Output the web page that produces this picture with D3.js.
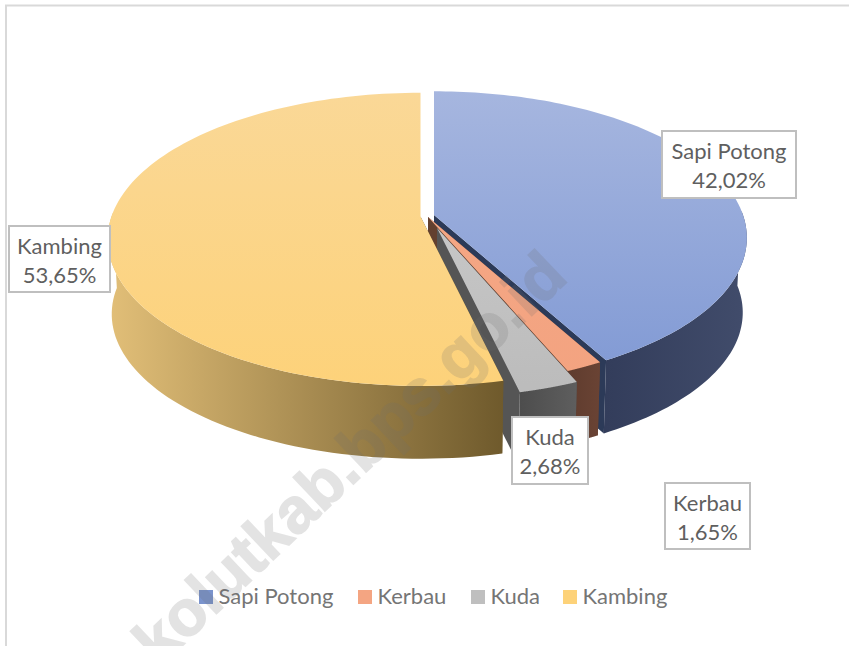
<!DOCTYPE html>
<html><head><meta charset="utf-8">
<script src="https://cdn.jsdelivr.net/npm/d3@7/dist/d3.min.js"></script>
<style>html,body{margin:0;padding:0;background:#fff;overflow:hidden}svg{display:block}text{font-family:Lato,"Open Sans",sans-serif}</style>
</head><body><svg id="c" width="849" height="646"></svg>
<script>
const categories = ["Sapi Potong","Kerbau","Kuda","Kambing"];
const values = [42.02,1.65,2.68,53.65];
const valueLabels = ["42,02%","1,65%","2,68%","53,65%"];
const watermark = "kolutkab.bps.go.id";

// styling and layout, per category
const apexX = [434,428,437,420.5];
const apexY = [215,217,228,216.5];
const topGrad = [["#a6b6df","#8099d4"],["#f5a988","#f3a380"],["#cfcfcf","#bcbcbc"],["#fad897","#fdd27a"]];
const wallGrad = [["#333d5b","#414c6b"],["#5f3c2e","#6a4334"],["#4d4d4d","#5e5e5e"],["#e2bf78","#6f5a2c"]];
const cutColor = ["#2c3a58","#63402f","#555555","#6f5a2c"];
const legendSwatch = ["#7a93cc","#f4a582","#bfbfbf","#fdd279"];
const boxX = [662,665,512,9], boxY = [131,483,417,226], boxW = [134,85,76,101], boxH = [67,66,67,66];
const legendX = [199,358,471,563];

const R = 309, S = 143, K = 0.156, DEPTH = 75, SHRINK = 0.987;
const svg = d3.select("#c");
const defs = svg.append("defs");
const pie = d3.pie().sort(null).startAngle(0).endAngle(2*Math.PI);
const arcs = pie(values);

function project(a, i, bottom){
  const u = Math.sin(a), v = -Math.cos(a), w = 1 - K*v;
  const f = bottom ? SHRINK : 1;
  return [apexX[i] + f*R*u/w, apexY[i] + f*S*v/w + (bottom ? DEPTH : 0)];
}
const line = d3.line();
const samples = (a0,a1) => d3.range(0,121).map(d3.scaleLinear([0,120],[a0,a1]));

// frame
svg.append("rect").attr("x",0).attr("y",0).attr("width",849).attr("height",646).attr("fill","#fff");
svg.append("path").attr("d","M6,646V5.5H849").attr("fill","none").attr("stroke","#d9d9d9").attr("stroke-width",2);

arcs.forEach((d,i)=>{
  const as = samples(d.startAngle,d.endAngle);
  const tg = defs.append("linearGradient").attr("id","t"+i).attr("gradientUnits","userSpaceOnUse")
    .attr("x1",0).attr("x2",0).attr("y1",91).attr("y2",385);
  tg.append("stop").attr("offset",0).attr("stop-color",topGrad[i][0]);
  tg.append("stop").attr("offset",1).attr("stop-color",topGrad[i][1]);
  const g = svg.append("g").attr("class","slice");
  // cut faces, under the wall
  [d.startAngle,d.endAngle].forEach(a=>{
    const top = project(a,i,false), bot = project(a,i,true);
    const ax0=[apexX[i],apexY[i]], ax1=[apexX[i],apexY[i]+DEPTH];
    g.append("path").attr("d",line([ax0,top,bot,ax1])+"Z").attr("fill",cutColor[i]);
  });
  // outer wall: only the front part of the rim
  const front = as.filter(a => Math.cos(a) < 0.05);
  const topPts = front.map(a=>project(a,i,false));
  const botPts = front.map(a=>project(a,i,true)).reverse();
  const xs = topPts.map(p=>p[0]);
  const wg = defs.append("linearGradient").attr("id","w"+i).attr("gradientUnits","userSpaceOnUse")
    .attr("y1",0).attr("y2",0)
    .attr("x1",i===3?d3.min(xs):d3.max(xs)).attr("x2",i===3?d3.max(xs):d3.min(xs));
  wg.append("stop").attr("offset",0).attr("stop-color",wallGrad[i][i===3?0:1]);
  wg.append("stop").attr("offset",1).attr("stop-color",wallGrad[i][i===3?1:0]);
  g.append("path").attr("d",line(topPts.concat(botPts))+"Z").attr("fill",`url(#w${i})`);
  // top face
  const pts = [[apexX[i],apexY[i]]].concat(as.map(a=>project(a,i,false)));
  g.append("path").attr("d",line(pts)+"Z").attr("fill",`url(#t${i})`);
});

// data labels
categories.forEach((c,i)=>{
  const g = svg.append("g");
  g.append("rect").attr("x",boxX[i]).attr("y",boxY[i]).attr("width",boxW[i]).attr("height",boxH[i])
    .attr("fill","#fff").attr("stroke","#bfbfbf").attr("stroke-width",2);
  const cx = boxX[i]+boxW[i]/2;
  g.append("text").attr("x",cx).attr("y",boxY[i]+28).attr("text-anchor","middle")
    .attr("font-size",22).attr("fill","#5f5f5f").text(c);
  g.append("text").attr("x",cx).attr("y",boxY[i]+57).attr("text-anchor","middle")
    .attr("font-size",22).attr("fill","#5f5f5f").text(valueLabels[i]);
});

// legend
categories.forEach((c,i)=>{
  svg.append("rect").attr("x",legendX[i]).attr("y",590).attr("width",14).attr("height",14).attr("fill",legendSwatch[i]);
  svg.append("text").attr("x",legendX[i]+19.5).attr("y",604).attr("font-size",22).attr("fill","#757575").text(c);
});

// watermark
svg.append("text").attr("transform","translate(159,668) rotate(-43.4)")
  .style("font-family","'Liberation Sans',Arial,sans-serif").attr("font-weight","bold")
  .attr("font-size",64).attr("fill","#6f6f6f").attr("stroke","#6f6f6f").attr("stroke-width",1.5)
  .attr("opacity",0.19).text(watermark);
</script></body></html>
